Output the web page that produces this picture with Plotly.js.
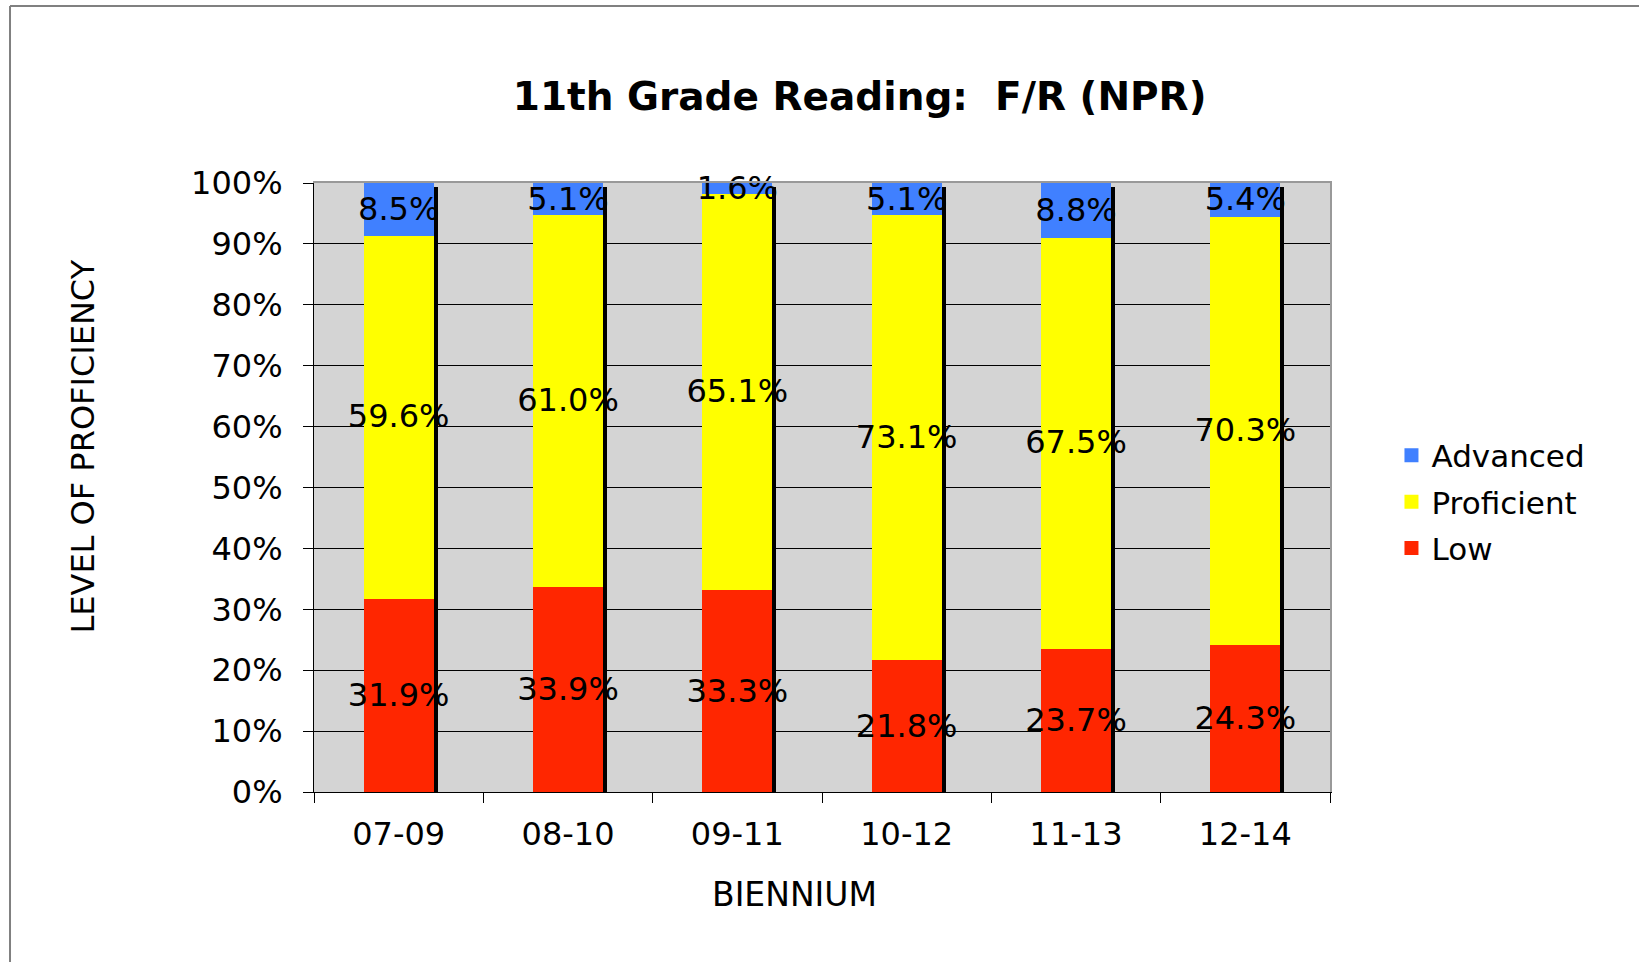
<!DOCTYPE html>
<html>
<head>
<meta charset="utf-8">
<script src="https://cdn.plot.ly/plotly-3.0.1.min.js"></script>
<style>
html,body{margin:0;padding:0;background:#fff;}
#chart{width:1639px;height:962px;}
</style>
</head>
<body>
<div id="chart"></div>
<script>
// ---- data ----
const categories = ['07-09', '08-10', '09-11', '10-12', '11-13', '12-14'];
const lowValues = [31.9, 33.9, 33.3, 21.8, 23.7, 24.3];
const proficientValues = [59.6, 61.0, 65.1, 73.1, 67.5, 70.3];
const advancedValues = [8.5, 5.1, 1.6, 5.1, 8.8, 5.4];
const seriesNames = ['Low', 'Proficient', 'Advanced'];
const chartTitle = '11th Grade Reading:  F/R (NPR)';
const xTitle = 'BIENNIUM';
const yTitle = 'LEVEL OF PROFICIENCY';

// ---- style ----
const FONT = '"DejaVu Sans", Verdana, sans-serif';
const colors = {Low: '#ff2600', Proficient: '#ffff00', Advanced: '#4080ff'};
const ranks = {Low: 3, Proficient: 2, Advanced: 1};
const barWidth = 0.40;
const totals = categories.map((c, i) => lowValues[i] + proficientValues[i] + advancedValues[i]);

function segment(name, vals) {
  return {
    type: 'bar', name: name, x: categories, y: vals,
    xaxis: 'x2', yaxis: 'y2',
    width: barWidth,
    legendgroup: name,
    legendrank: ranks[name],
    marker: {color: colors[name], line: {color: colors[name], width: 2}},
    texttemplate: '%{y:.1f}%',
    textposition: 'inside',
    insidetextanchor: 'middle',
    constraintext: 'none',
    textangle: 0,
    cliponaxis: false,
    textfont: {family: FONT, size: 32, color: '#000'},
    hoverinfo: 'x+y+name'
  };
}

// drop shadow behind each stacked column (black, offset right/down)
const shadow = {
  type: 'bar', x: categories, y: totals, base: -0.66,
  width: barWidth + 0.012, offset: -barWidth / 2 + 0.018,
  marker: {color: '#000'}, showlegend: false, hoverinfo: 'skip',
  cliponaxis: false, xaxis: 'x', yaxis: 'y'
};

const data = [
  shadow,
  segment(seriesNames[0], lowValues),
  segment(seriesNames[1], proficientValues),
  segment(seriesNames[2], advancedValues)
];

const layout = {
  width: 1639, height: 962,
  margin: {l: 314, r: 309, t: 183, b: 170},
  paper_bgcolor: '#ffffff',
  plot_bgcolor: '#d4d4d4',
  barmode: 'stack',
  font: {family: FONT, size: 32, color: '#000'},
  title: {
    text: '<b>' + chartTitle + '</b>',
    font: {family: FONT, size: 39, color: '#000'},
    x: 0.5245, xref: 'container', xanchor: 'center',
    y: 0.9002, yref: 'container', yanchor: 'middle'
  },
  xaxis: {
    type: 'category', range: [-0.5, 5.5],
    tickson: 'boundaries', ticks: 'outside', ticklen: 10, tickcolor: '#000',
    ticklabelstandoff: 14,
    showline: true, linecolor: '#000', linewidth: 1,
    showgrid: false, tickfont: {family: FONT, size: 32, color: '#000'},
    fixedrange: true
  },
  yaxis: {
    range: [0, 100], dtick: 10, ticksuffix: '%',
    ticks: 'outside', ticklen: 10, tickcolor: '#000',
    ticklabelstandoff: 14,
    showline: true, linecolor: '#000', linewidth: 1,
    showgrid: true, gridcolor: '#000', gridwidth: 1, zeroline: false,
    tickfont: {family: FONT, size: 32, color: '#000'},
    fixedrange: true
  },
  xaxis2: {
    type: 'category', range: [-0.5, 5.5], overlaying: 'x', side: 'top',
    showline: true, linecolor: '#999999', linewidth: 2,
    showticklabels: false, ticks: '', showgrid: false, fixedrange: true
  },
  yaxis2: {
    range: [0, 100], overlaying: 'y', side: 'right',
    showline: true, linecolor: '#999999', linewidth: 2,
    showticklabels: false, ticks: '', showgrid: false, zeroline: false, fixedrange: true
  },
  legend: {
    x: 1.0605, xanchor: 'left', y: 0.4767, yanchor: 'middle',
    traceorder: 'grouped', tracegroupgap: 3,
    font: {family: FONT, size: 31, color: '#000'},
    bgcolor: 'rgba(0,0,0,0)'
  },
  annotations: [
    {text: xTitle, xref: 'paper', yref: 'paper', x: 0.4734, y: -0.1675,
     xanchor: 'center', yanchor: 'middle', showarrow: false,
     font: {family: FONT, size: 33, color: '#000'}},
    {text: yTitle, xref: 'paper', yref: 'paper', x: -0.2283, y: 0.5673,
     xanchor: 'center', yanchor: 'middle', showarrow: false, textangle: -90,
     font: {family: FONT, size: 32, color: '#000'}}
  ],
  shapes: [
    {type: 'line', xref: 'paper', yref: 'paper', x0: -0.2992, x1: 1.31, y0: 1.2906, y1: 1.2906,
     line: {color: '#808080', width: 2}, layer: 'above'},
    {type: 'line', xref: 'paper', yref: 'paper', x0: -0.2992, x1: -0.2992, y0: 1.2906, y1: -0.3,
     line: {color: '#808080', width: 2}, layer: 'above'}
  ]
};

Plotly.newPlot('chart', data, layout, {displayModeBar: false, staticPlot: true});
</script>
</body>
</html>
